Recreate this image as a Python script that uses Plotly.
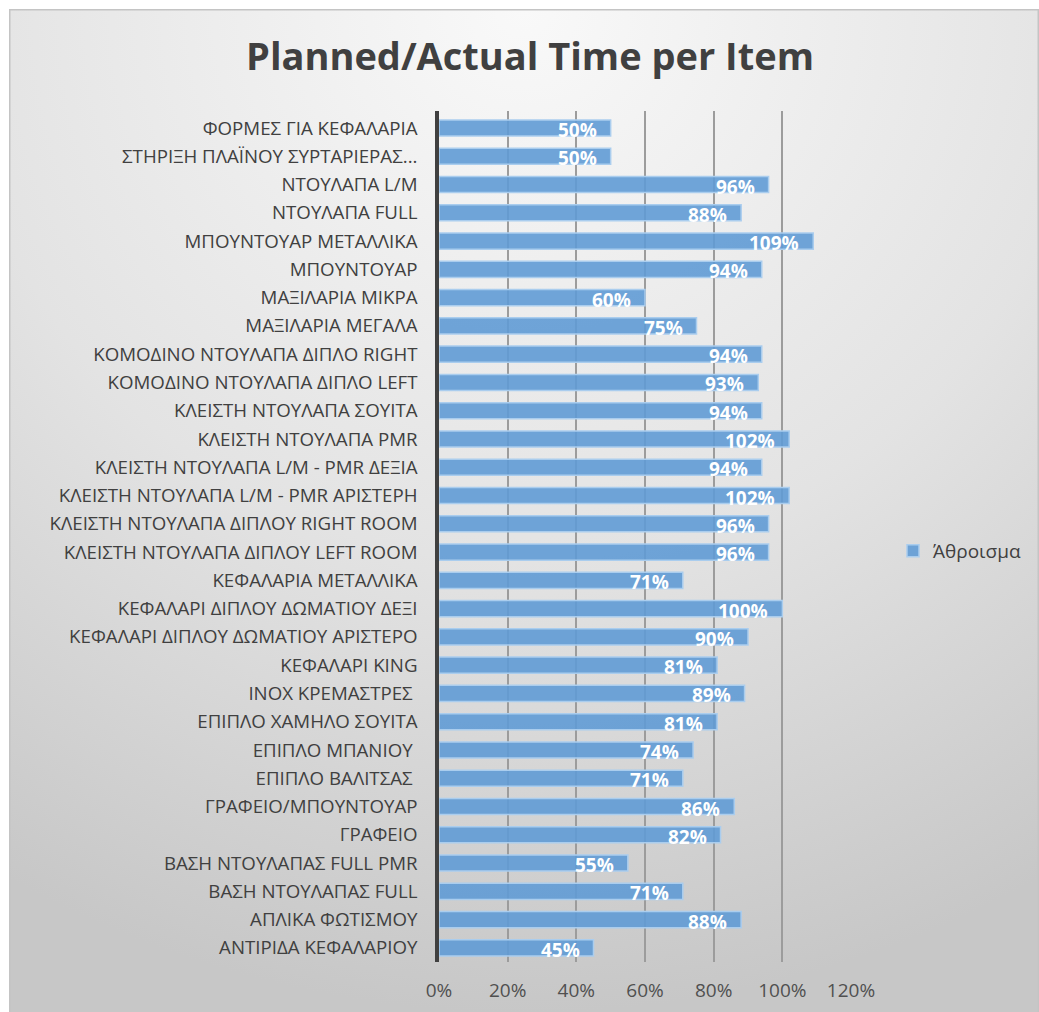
import base64
import plotly.graph_objects as go

# Items listed top to bottom as they appear on the chart
categories = [
    "ΦΟΡΜΕΣ ΓΙΑ ΚΕΦΑΛΑΡΙΑ",
    "ΣΤΗΡΙΞΗ ΠΛΑΪΝΟΥ ΣΥΡΤΑΡΙΕΡΑΣ...",
    "ΝΤΟΥΛΑΠΑ L/M",
    "ΝΤΟΥΛΑΠΑ FULL",
    "ΜΠΟΥΝΤΟΥΑΡ ΜΕΤΑΛΛΙΚΑ",
    "ΜΠΟΥΝΤΟΥΑΡ",
    "ΜΑΞΙΛΑΡΙΑ ΜΙΚΡΑ",
    "ΜΑΞΙΛΑΡΙΑ ΜΕΓΑΛΑ",
    "ΚΟΜΟΔΙΝΟ ΝΤΟΥΛΑΠΑ ΔΙΠΛΟ RIGHT",
    "ΚΟΜΟΔΙΝΟ ΝΤΟΥΛΑΠΑ ΔΙΠΛΟ LEFT",
    "ΚΛΕΙΣΤΗ ΝΤΟΥΛΑΠΑ ΣΟΥΙΤΑ",
    "ΚΛΕΙΣΤΗ ΝΤΟΥΛΑΠΑ PMR",
    "ΚΛΕΙΣΤΗ ΝΤΟΥΛΑΠΑ L/M - PMR ΔΕΞΙΑ",
    "ΚΛΕΙΣΤΗ ΝΤΟΥΛΑΠΑ L/M - PMR ΑΡΙΣΤΕΡΗ",
    "ΚΛΕΙΣΤΗ ΝΤΟΥΛΑΠΑ ΔΙΠΛΟΥ RIGHT ROOM",
    "ΚΛΕΙΣΤΗ ΝΤΟΥΛΑΠΑ ΔΙΠΛΟΥ LEFT ROOM",
    "ΚΕΦΑΛΑΡΙΑ ΜΕΤΑΛΛΙΚΑ",
    "ΚΕΦΑΛΑΡΙ ΔΙΠΛΟΥ ΔΩΜΑΤΙΟΥ ΔΕΞΙ",
    "ΚΕΦΑΛΑΡΙ ΔΙΠΛΟΥ ΔΩΜΑΤΙΟΥ ΑΡΙΣΤΕΡΟ",
    "ΚΕΦΑΛΑΡΙ KING",
    "ΙΝΟΧ ΚΡΕΜΑΣΤΡΕΣ ",
    "ΕΠΙΠΛΟ ΧΑΜΗΛΟ ΣΟΥΙΤΑ",
    "ΕΠΙΠΛΟ ΜΠΑΝΙΟΥ ",
    "ΕΠΙΠΛΟ ΒΑΛΙΤΣΑΣ ",
    "ΓΡΑΦΕΙΟ/ΜΠΟΥΝΤΟΥΑΡ",
    "ΓΡΑΦΕΙΟ",
    "ΒΑΣΗ ΝΤΟΥΛΑΠΑΣ FULL PMR",
    "ΒΑΣΗ ΝΤΟΥΛΑΠΑΣ FULL",
    "ΑΠΛΙΚΑ ΦΩΤΙΣΜΟΥ",
    "ΑΝΤΙΡΙΔΑ ΚΕΦΑΛΑΡΙΟΥ",
]

# Planned/actual ratio per item (fraction)
ratios = [
    0.50, 0.50, 0.96, 0.88, 1.09, 0.94, 0.60, 0.75, 0.94, 0.93,
    0.94, 1.02, 0.94, 1.02, 0.96, 0.96, 0.71, 1.00, 0.90, 0.81,
    0.89, 0.81, 0.74, 0.71, 0.86, 0.82, 0.55, 0.71, 0.88, 0.45,
]

x_tick_values = [0, 0.2, 0.4, 0.6, 0.8, 1.0, 1.2]
x_tick_labels = ["0%", "20%", "40%", "60%", "80%", "100%", "120%"]

series_name = "Άθροισμα"
title_text = "Planned/Actual Time per Item"

W, H = 1039, 1012
ML, MR, MT, MB = 439, 188, 111, 50
plot_w = W - ML - MR
plot_h = H - MT - MB

# Soft grey background panel
svg = f"""<svg xmlns='http://www.w3.org/2000/svg' width='1030' height='1004' viewBox='0 0 1030 1004'>
<defs><radialGradient id='g' cx='0.5' cy='0' r='1' fx='0.5' fy='0'>
<stop offset='0' stop-color='#f9f9f9'/><stop offset='0.55' stop-color='#e3e3e3'/><stop offset='1' stop-color='#c7c7c7'/>
</radialGradient></defs>
<rect x='0' y='0' width='1030' height='1004' fill='url(#g)'/>
<rect x='0.75' y='0.75' width='1028.5' height='1010' fill='none' stroke='#c4c4c4' stroke-width='1.5'/>
</svg>"""
bg_src = "data:image/svg+xml;base64," + base64.b64encode(svg.encode("utf-8")).decode("ascii")

bg_x0, bg_y0, bg_x1, bg_y1 = 9, 9, 1039, 1013

fig = go.Figure()
fig.add_trace(
    go.Bar(
        x=ratios,
        y=categories,
        orientation="h",
        name=series_name,
        marker=dict(
            color="rgba(96,155,213,0.9)",
            line=dict(color="rgba(170,205,238,1)", width=1.5),
        ),
        showlegend=True,
        hoverinfo="x+y",
    )
)

# Value labels at the inner end of each bar
annotations = []
for cat, v in zip(categories, ratios):
    annotations.append(
        dict(
            x=v,
            y=cat,
            xref="x",
            yref="y",
            text=f"{round(v * 100)}%",
            showarrow=False,
            xanchor="right",
            yanchor="middle",
            xshift=-12,
            yshift=-2,
            font=dict(family="Open Sans", size=19, color="white", weight="bold"),
        )
    )

fig.update_layout(
    width=W,
    height=H,
    margin=dict(l=ML, r=MR, t=MT, b=MB, autoexpand=False),
    paper_bgcolor="white",
    plot_bgcolor="rgba(0,0,0,0)",
    bargap=0.43,
    title=dict(
        text=title_text,
        x=(530) / W,
        xanchor="center",
        y=1 - 57 / H,
        yanchor="middle",
        font=dict(family="Open Sans", size=38, color="#404040", weight="bold"),
    ),
    xaxis=dict(
        range=[0, 1.2],
        tickvals=x_tick_values,
        ticktext=x_tick_labels,
        showgrid=True,
        gridcolor="#9c9c9c",
        gridwidth=1.5,
        zeroline=False,
        showline=False,
        ticks="",
        ticklabelstandoff=15,
        tickfont=dict(family="Open Sans", size=19, color="#505050"),
        fixedrange=True,
    ),
    yaxis=dict(
        autorange="reversed",
        showgrid=False,
        zeroline=False,
        showline=True,
        linecolor="#404040",
        linewidth=3.5,
        ticks="",
        ticklabelstandoff=14,
        tickfont=dict(family="Open Sans", size=18.7, color="#404040"),
        fixedrange=True,
    ),
    legend=dict(
        x=(893 - ML) / plot_w,
        y=(H - MB - 551) / plot_h,
        xanchor="left",
        yanchor="middle",
        font=dict(family="Open Sans", size=19, color="#404040"),
        bgcolor="rgba(0,0,0,0)",
        itemwidth=30,
    ),
    annotations=annotations,
    images=[
        dict(
            source=bg_src,
            xref="paper",
            yref="paper",
            x=(bg_x0 - ML) / plot_w,
            y=(H - MB - bg_y0) / plot_h,
            sizex=(bg_x1 - bg_x0) / plot_w,
            sizey=(bg_y1 - bg_y0) / plot_h,
            xanchor="left",
            yanchor="top",
            sizing="stretch",
            layer="below",
        )
    ],
)

fig.write_html("out.html")
